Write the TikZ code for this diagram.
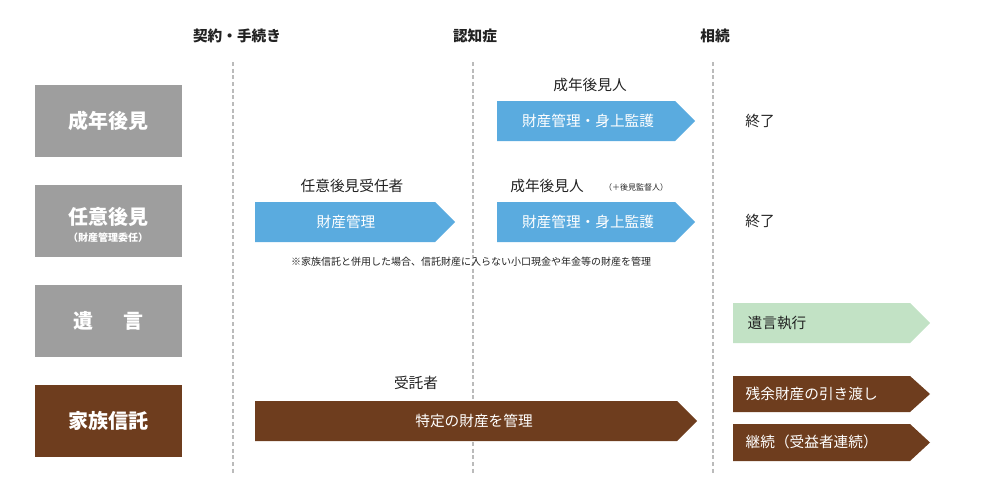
\documentclass[tikz,border=0pt]{standalone}
\usepackage{fontspec}
\newfontfamily\jp{Noto Sans CJK JP}
\definecolor{gbox}{HTML}{9E9E9E}
\definecolor{brn}{HTML}{6E3D1E}
\definecolor{blu}{HTML}{5AABDF}
\definecolor{grn}{HTML}{C2E2C5}
\definecolor{txt}{HTML}{222222}
\begin{document}
\begin{tikzpicture}[x=0.75pt,y=-0.75pt,font=\jp,
  lbl/.style={text=txt,font=\jp\fontsize{11}{13}\selectfont},
  rowbox/.style={text=white,font=\jp\bfseries\fontsize{15}{17}\selectfont,align=center},
  dline/.style={draw=gbox!70,densely dashed,line width=1.2pt}]
\useasboundingbox (0,0) rectangle (1000,500);
\def\arr#1#2#3#4#5{\fill[#5] (#1,#2)--(#3-20,#2)--(#3,{(#2+#4)/2})--(#3-20,#4)--(#1,#4)--cycle;}
% headers
\node[lbl,font=\jp\bfseries\fontsize{11}{13}\selectfont] (h1) at (237,36) {契約・手続き};
\node[lbl,font=\jp\bfseries\fontsize{11}{13}\selectfont] (h2) at (475,36) {認知症};
\node[lbl,font=\jp\bfseries\fontsize{11}{13}\selectfont] (h3) at (715,36) {相続};
\foreach \x in {233,473,713}{\draw[dline] (\x,62)--(\x,475);}
% row boxes
\fill[gbox] (35,85) rectangle (182,157); \node[rowbox] (r1) at (108,121) {成年後見};
\fill[gbox] (35,185) rectangle (182,257); \node[rowbox] (r2) at (108,217) {任意後見};
\node[text=white,font=\jp\bfseries\fontsize{7.5}{9}\selectfont] (r2b) at (108,238) {（財産管理委任）};
\fill[gbox] (35,285) rectangle (182,357); \node[rowbox] (r3) at (108,321) {遺\hspace{1.5em}言};
\fill[brn] (35,385) rectangle (182,457); \node[rowbox] (r4) at (108,421) {家族信託};
% row 1
\arr{497}{101}{695}{141}{blu}
\node[lbl,text=white] (a1) at (588,121) {財産管理・身上監護};
\node[lbl] (a1l) at (590,85) {成年後見人};
\node[lbl] (e1) at (760,121) {終了};
% row 2
\arr{255}{202}{455}{242}{blu}
\node[lbl,text=white] (a2) at (346,222) {財産管理};
\node[lbl] (a2l) at (352,186) {任意後見受任者};
\arr{497}{202}{695}{242}{blu}
\node[lbl,text=white] (a3) at (588,222) {財産管理・身上監護};
\node[lbl] (a3l) at (547,186) {成年後見人};
\node[lbl,font=\jp\fontsize{6}{7}\selectfont] (a3s) at (636,187) {（＋後見監督人）};
\node[lbl] (e2) at (760,221) {終了};
\node[lbl,font=\jp\fontsize{7.5}{9}\selectfont] (note) at (471,262) {※家族信託と併用した場合、信託財産に入らない小口現金や年金等の財産を管理};
% row 3
\arr{733}{303}{930}{343}{grn}
\node[lbl,anchor=west] (w) at (743,323) {遺言執行};
% row 4
\arr{255}{401}{697}{441}{brn}
\node[lbl,text=white] (t) at (474,421) {特定の財産を管理};
\node[lbl] (tl) at (416,383) {受託者};
\arr{733}{376}{930}{412}{brn}
\node[lbl,text=white,anchor=west] (t1) at (741,394) {残余財産の引き渡し};
\arr{733}{424}{930}{461}{brn}
\node[lbl,text=white,anchor=west] (t2) at (741,442) {継続（受益者連続）};
\end{tikzpicture}
\end{document}
